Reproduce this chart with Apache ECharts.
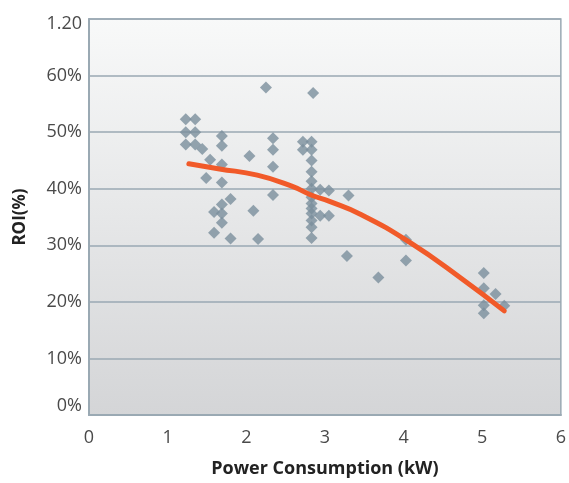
<!DOCTYPE html>
<html>
<head>
<meta charset="utf-8">
<script src="https://cdn.jsdelivr.net/npm/echarts@6/dist/echarts.min.js"></script>
<style>
html,body{margin:0;padding:0;background:#fff;}
#c{width:569px;height:483px;}
</style>
</head>
<body>
<div id="c"></div>
<script>
// Scatter data: power consumption (kW) and ROI (%)
var powerKW = [
  1.23,1.35,1.23,1.35,1.23,1.35,1.44,1.54,1.49,
  1.69,1.69,1.69,1.69,1.80,1.69,1.59,1.69,1.69,1.59,1.80,
  2.04,2.09,2.15,2.25,
  2.34,2.34,2.34,2.34,
  2.72,2.83,2.72,2.83,2.83,2.83,2.83,2.83,2.94,3.05,3.30,
  2.83,2.83,2.83,2.83,2.94,3.05,2.83,2.83,2.83,2.85,
  3.28,3.68,4.03,4.03,
  5.02,5.02,5.17,5.02,5.28,5.02
];
var roiPct = [
  52.3,52.3,50.0,50.0,47.8,47.8,47.0,45.1,41.9,
  49.3,47.6,44.3,41.1,38.2,37.2,35.9,35.6,34.0,32.2,31.2,
  45.8,36.1,31.1,57.9,
  48.9,46.9,43.9,38.9,
  48.3,48.3,46.9,46.9,45.0,43.0,41.3,40.0,39.8,39.7,38.8,
  38.5,37.4,36.5,35.6,35.2,35.2,34.4,33.2,31.3,56.9,
  28.1,24.3,31.0,27.3,
  25.1,22.4,21.4,19.4,19.3,18.0
];
// Trend line
var trendX = [1.27,1.66,2.14,2.57,2.84,3.05,3.45,4.07,4.74,5.28];
var trendY = [44.4,43.5,42.4,40.5,38.8,37.8,35.5,30.6,24.1,18.4];
// Axis tick labels
var yTickLabels = ['0%','10%','20%','30%','40%','50%','60%','1.20'];
var xTickLabels = ['0','1','2','3','4','5','6'];

var scatterData = powerKW.map(function(x,i){return [x, roiPct[i]];});
var trendData = trendX.map(function(x,i){return [x, trendY[i]];});

var chart = echarts.init(document.getElementById('c'), null, {renderer:'canvas'});
var FONT = '"Open Sans", "Noto Sans", sans-serif';
chart.setOption({
  animation:false,
  backgroundColor:'#ffffff',
  grid:{
    left:89, right:6, top:19, bottom:66,
    show:true,
    borderColor:'#9aa9b3', borderWidth:1.5,
    backgroundColor:new echarts.graphic.LinearGradient(0,0,0,1,[
      {offset:0,color:'#f8f9f9'},
      {offset:1,color:'#d4d5d7'}
    ])
  },
  xAxis:{
    type:'value', min:0, max:6, interval:1,
    name:'Power Consumption (kW)', nameLocation:'middle', nameGap:45,
    nameTextStyle:{fontFamily:FONT, fontWeight:'bold', fontSize:18, color:'#222'},
    axisLine:{show:true, lineStyle:{color:'#9aa9b3', width:2}},
    axisTick:{show:false},
    splitLine:{show:false},
    axisLabel:{fontFamily:FONT, fontSize:18, color:'#4a4a4a', margin:14,
      formatter:function(v){return xTickLabels[Math.round(v)];}}
  },
  yAxis:{
    type:'value', min:0, max:70, interval:10,
    name:'ROI(%)', nameLocation:'middle', nameGap:60, nameRotate:90,
    nameTextStyle:{fontFamily:FONT, fontWeight:'bold', fontSize:17, color:'#222'},
    axisLine:{show:true, lineStyle:{color:'#9aa9b3', width:2}},
    axisTick:{show:false},
    splitLine:{show:true, lineStyle:{color:'#9aa9b3', width:1.5}},
    axisLabel:{fontFamily:FONT, fontSize:18, color:'#4a4a4a', margin:7,
      rich:{
        lo:{fontFamily:FONT, fontSize:18, color:'#4a4a4a', padding:[0,0,18,0]},
        hi:{fontFamily:FONT, fontSize:18, color:'#4a4a4a', padding:[10,0,0,0]}
      },
      formatter:function(v){
        var i = Math.round(v/10);
        var t = yTickLabels[i];
        if(i===0) return '{lo|'+t+'}';
        if(i===yTickLabels.length-1) return '{hi|'+t+'}';
        return t;
      }}
  },
  series:[
    {
      type:'scatter', symbol:'diamond', symbolSize:12,
      itemStyle:{color:'#7b8f9c'},
      data:scatterData, z:2
    },
    {
      type:'line', smooth:true, showSymbol:false, symbol:'none',
      lineStyle:{color:'#f15a29', width:5, cap:'round'},
      data:trendData, z:3
    }
  ]
});
</script>
</body>
</html>
